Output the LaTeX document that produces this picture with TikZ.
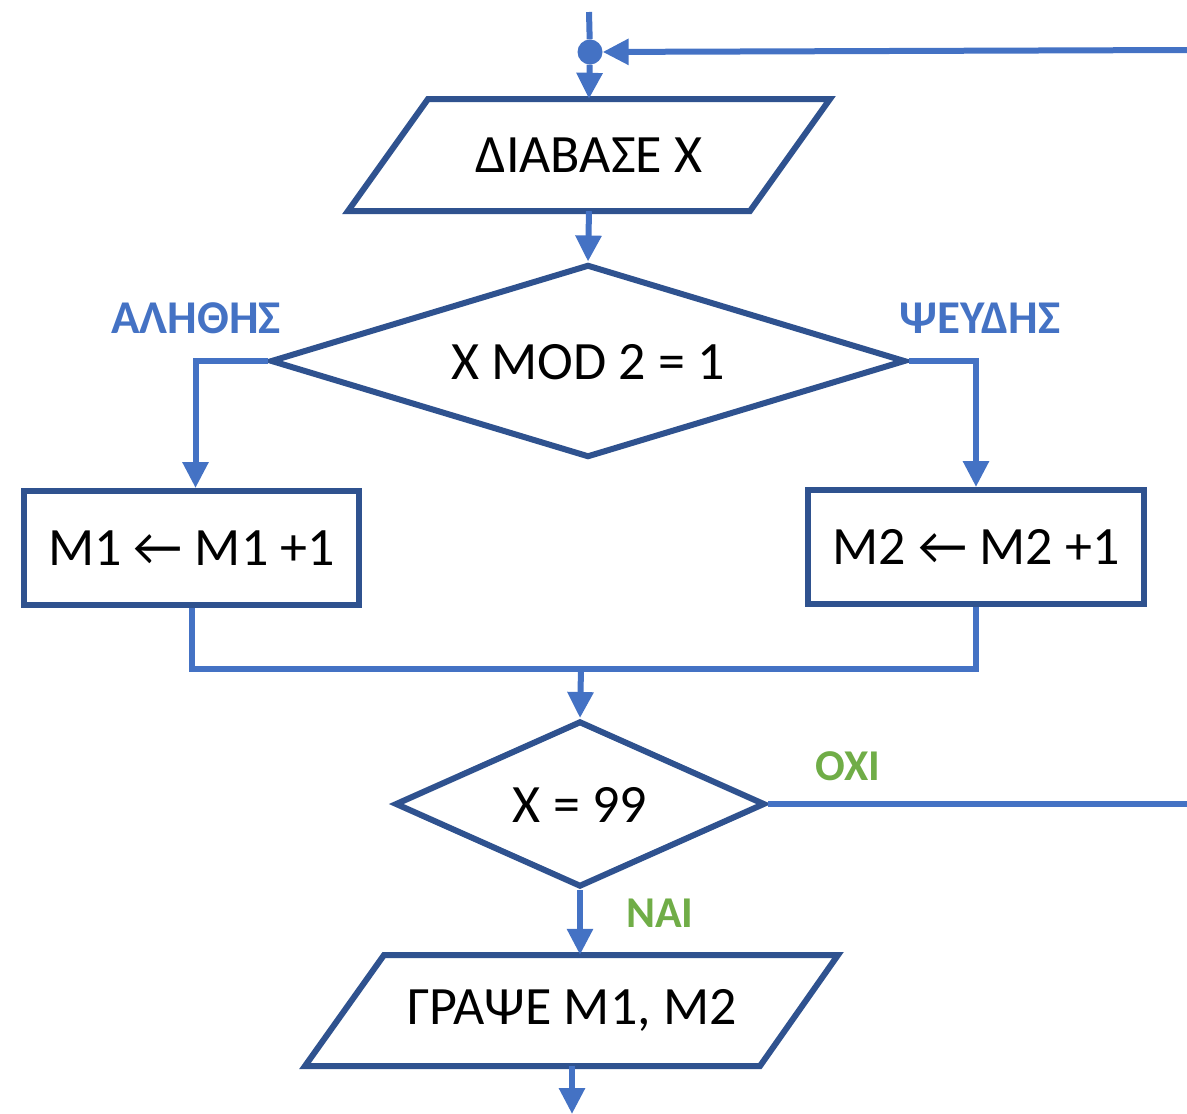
\documentclass[tikz,border=0pt]{standalone}
\usepackage{fontspec}
\setmainfont{Carlito}
\usetikzlibrary{arrows.meta,shapes.geometric}
\definecolor{shapeblue}{HTML}{2F528F}
\definecolor{linkblue}{HTML}{4472C4}
\definecolor{labgreen}{HTML}{70AD47}
\begin{document}
\begin{tikzpicture}[x=1pt,y=-1pt,
  fshape/.style={draw=shapeblue,line width=6pt,line join=miter,fill=white},
  link/.style={draw=linkblue,line width=6pt},
  arr/.style={link,-{Triangle[length=26pt,width=25pt]}},
  txt/.style={font=\fontsize{54}{64}\selectfont,text=black,inner sep=0pt},
  lbl/.style={font=\fontsize{47}{56}\selectfont\bfseries,inner sep=0pt},
  glbl/.style={font=\fontsize{44}{52}\selectfont\bfseries,inner sep=0pt,text=labgreen}]
\useasboundingbox (0,0) rectangle (1187,1114);

% input parallelogram
\draw[fshape] (428,99) -- (830,99) -- (750,211) -- (348,211) -- cycle;
\node[txt,minimum height=112pt] (p1) at (589,155) {ΔΙΑΒΑΣΕ X};

% loop junction at the top
\coordinate (topin) at (589,12);
\coordinate (loopR) at (1187,50);
\node[circle,fill=linkblue,minimum size=25pt,inner sep=0pt] (dot) at (590,52) {};
\draw[link] (topin) -- (dot);
\draw[arr] (dot) -- (p1.north);
\draw[arr] (loopR) -- (dot);

% first decision
\node[diamond,fshape,minimum width=635pt,minimum height=193pt,inner sep=0pt,aspect=3.29] (d1) at (588,361) {};
\node[txt] (d1t) at (588,362) {X MOD 2 = 1};
\draw[arr] (p1.south) -- (d1.north);

% assignment boxes
\node[fshape,rectangle,minimum width=335pt,minimum height=114pt,txt] (b1) at (191.5,548) {M1 ← M1 +1};
\node[fshape,rectangle,minimum width=336pt,minimum height=114pt,txt] (b2) at (976,547) {M2 ← M2 +1};

\draw[arr] (d1.west) -| ([xshift=4pt]b1.north);
\draw[arr] (d1.east) -| (b2.north);
\node[lbl,text=linkblue] (lt) at (196,318) {ΑΛΗΘΗΣ};
\node[lbl,text=linkblue] (lf) at (980,318) {ΨΕΥΔΗΣ};

% merge
\coordinate (m) at (581,669);
\draw[link] (b1.south) |- (m);
\draw[link] (b2.south) |- (m);

% second decision
\node[diamond,fshape,minimum width=370pt,minimum height=166pt,inner sep=0pt,aspect=2.23] (d2) at (580,804) {};
\node[txt] (d2t) at (580,805) {X = 99};
\draw[arr] (m) -- (d2.north);
\coordinate (exitR) at (1187,804);
\draw[link] (d2.east) -- (exitR);
\node[glbl] (no) at (848,766) {ΟΧΙ};

% output parallelogram
\draw[fshape] (384,955) -- (838,955) -- (760,1066) -- (305,1066) -- cycle;
\node[txt,minimum height=111pt] (p2) at (572,1010.5) {ΓΡΑΨΕ M1, M2};
\draw[arr] (d2.south) -- (d2.south |- p2.north);
\node[glbl] (yes) at (660,913) {ΝΑΙ};

\coordinate (endp) at (572,1114);
\draw[arr] (p2.south) -- (endp);
\end{tikzpicture}
\end{document}
